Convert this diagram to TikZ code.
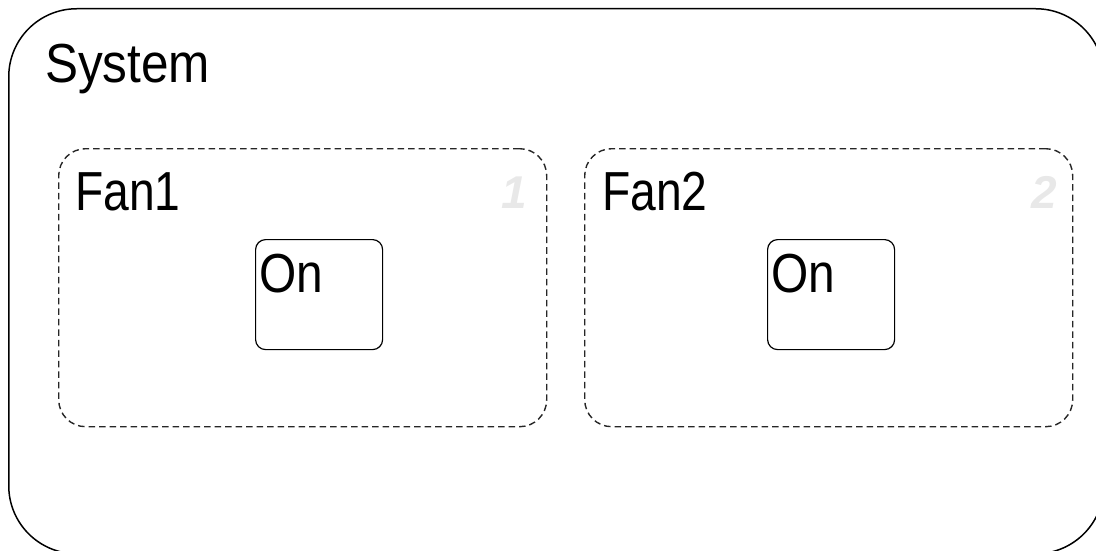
\documentclass[tikz,border=0pt]{standalone}
\usepackage{fontspec}
\setmainfont{Liberation Sans}
\begin{document}
\begin{tikzpicture}[x=1pt,y=-1pt,
  chartbox/.style={draw=black, line width=1.5pt, rounded corners=68pt, inner sep=0pt, anchor=north west},
  regionbox/.style={draw=black!85, line width=1.4pt, dash pattern=on 6.5pt off 4pt, rounded corners=27pt, inner sep=0pt, anchor=north west},
  statebox/.style={draw=black, line width=1.2pt, rounded corners=10pt, inner sep=0pt, anchor=north west, minimum width=127pt, minimum height=110pt},
  title/.style={inner sep=0pt, anchor=base west, font=\fontsize{55}{62}\selectfont},
  order/.style={inner sep=0pt, anchor=base east, text=black!9, font=\fontsize{46}{54}\selectfont\bfseries\itshape}
]
\useasboundingbox (0,0) rectangle (1096,551);
\begin{scope}
\clip (0,0) rectangle (1096,551);
% outer chart
\node[chartbox, minimum width=1095pt, minimum height=545pt] (system) at (8,8) {};
\node[title] (systemlabel) at (45,83) {\scalebox{0.9}[1]{System}};

% parallel regions
\node[regionbox, minimum width=488pt, minimum height=278pt] (fan1) at (58,148) {};
\node[regionbox, minimum width=488pt, minimum height=278pt] (fan2) at (584,148) {};
\node[title] (fan1label) at (75,210) {\scalebox{0.84}[1]{Fan1}};
\node[title] (fan2label) at (602,210) {\scalebox{0.84}[1]{Fan2}};
\node[order] (fan1order) at (527,208) {1};
\node[order] (fan2order) at (1057,208) {2};

% states
\node[statebox] (on1) at (255,239) {};
\node[statebox] (on2) at (767,239) {};
\node[title] (on1label) at (259,292) {\scalebox{0.87}[1]{On}};
\node[title] (on2label) at (771,292) {\scalebox{0.87}[1]{On}};
\end{scope}
\end{tikzpicture}
\end{document}
